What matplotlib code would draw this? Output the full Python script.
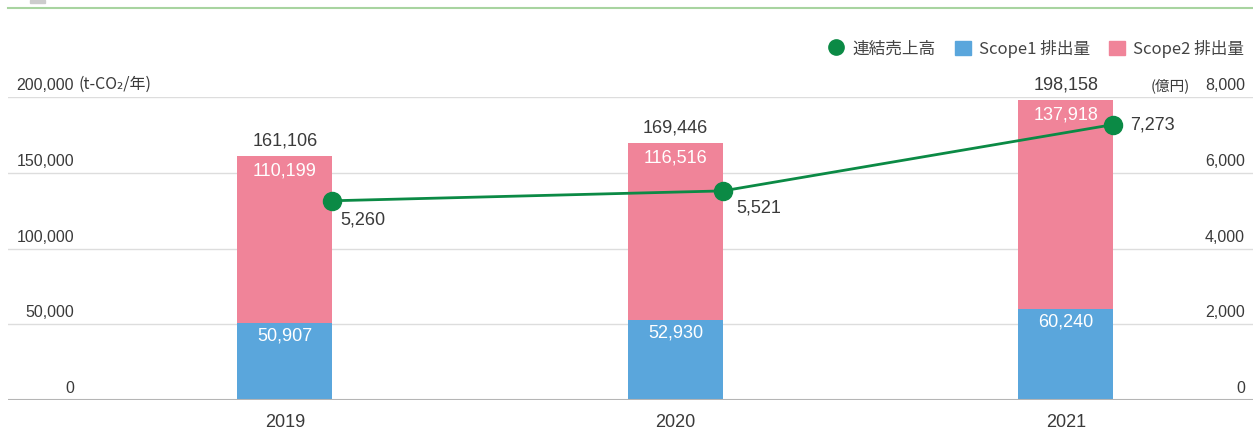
import matplotlib
matplotlib.use("Agg")
import matplotlib.pyplot as plt
from matplotlib.lines import Line2D
from matplotlib.patches import Patch, Rectangle
from matplotlib.transforms import offset_copy, blended_transform_factory

years = ["2019", "2020", "2021"]
scope1 = [50907, 52930, 60240]
scope2 = [110199, 116516, 137918]
totals = [161106, 169446, 198158]
sales = [5260, 5521, 7273]
left_ticks = [0, 50000, 100000, 150000, 200000]
left_labels = ["0", "50,000", "100,000", "150,000", "200,000"]
right_ticks = [0, 2000, 4000, 6000, 8000]
right_labels = ["0", "2,000", "4,000", "6,000", "8,000"]

BLUE = "#5aa6dc"
PINK = "#f08499"
GREEN = "#0b8a45"
TXT = "#3a3a3a"
NUM = ["Liberation Sans", "Noto Sans CJK JP", "DejaVu Sans"]
JP = ["Noto Sans CJK JP", "DejaVu Sans"]

W, H = 1253, 429
fig = plt.figure(figsize=(W / 100, H / 100), dpi=100)
ax = fig.add_axes([8 / W, (H - 400) / H, (W - 8) / W, 303 / H])
ax2 = ax.twinx()

x = list(range(len(years)))
bw = 0.243
ax.bar(x, scope1, width=bw, color=BLUE, zorder=3)
ax.bar(x, scope2, width=bw, bottom=scope1, color=PINK, zorder=3)
ax.set_xlim(-0.709, 2.479)
ax.set_ylim(0, 200000)
ax2.set_ylim(0, 8000)

lx = [i + bw / 2 for i in x]
ax2.plot(lx, sales, color=GREEN, lw=2, zorder=4)
ax2.plot(lx, sales, "o", color=GREEN, ms=13, zorder=5)

for a in (ax, ax2):
    for s in a.spines.values():
        s.set_visible(False)
    a.set_yticks([])
    a.tick_params(length=0)
ax.set_xticks(x)
ax.set_xticklabels(years, fontsize=13, color=TXT, family=NUM)
ax.tick_params(axis="x", pad=10)

# gridlines
for t in left_ticks[1:]:
    ax.axhline(t, color="#dddddd", lw=1, zorder=1)
ax.axhline(0, color="#b5b5b5", lw=1.5, zorder=6)

# left tick labels
tl = blended_transform_factory(ax.transAxes, ax.transData)
for t, lab in zip(left_ticks, left_labels):
    tr = offset_copy(tl, fig=fig, x=66, y=4, units="dots")
    ax.text(0, t, lab, transform=tr, ha="right", va="bottom", fontsize=11.5,
            color=TXT, family=NUM)
tr = offset_copy(tl, fig=fig, x=70, y=4, units="dots")
ax.text(0, left_ticks[-1], "(t-CO\u2082/年)", transform=tr, ha="left", va="bottom",
        fontsize=11.5, color=TXT, family=JP)

# right tick labels
tr2 = blended_transform_factory(ax2.transAxes, ax2.transData)
for t, lab in zip(right_ticks, right_labels):
    tr = offset_copy(tr2, fig=fig, x=-8, y=4, units="dots")
    ax2.text(1, t, lab, transform=tr, ha="right", va="bottom", fontsize=11.5,
             color=TXT, family=NUM)
tr = offset_copy(tr2, fig=fig, x=-63, y=4, units="dots")
ax2.text(1, right_ticks[-1], "(億円)", transform=tr, ha="right", va="bottom",
         fontsize=10.5, color=TXT, family=JP)

# bar labels
for i in x:
    ax.annotate(f"{totals[i]:,}", (i, scope1[i] + scope2[i]), xytext=(0, 15),
                textcoords="offset pixels", ha="center", va="center", fontsize=13,
                color=TXT, family=NUM, zorder=7)
    ax.annotate(f"{scope2[i]:,}", (i, scope1[i] + scope2[i]), xytext=(0, -15),
                textcoords="offset pixels", ha="center", va="center", fontsize=13,
                color="white", family=NUM, zorder=7)
    ax.annotate(f"{scope1[i]:,}", (i, scope1[i]), xytext=(0, -13),
                textcoords="offset pixels", ha="center", va="center", fontsize=13,
                color="white", family=NUM, zorder=7)

offs = [(8, -19, "left"), (13, -17, "left"), (17, 0, "left")]
for i in x:
    dx, dy, ha = offs[i]
    ax2.annotate(f"{sales[i]:,}", (lx[i], sales[i]), xytext=(dx, dy),
                 textcoords="offset pixels", ha=ha, va="center", fontsize=13,
                 color=TXT, family=NUM, zorder=7)

# legend
handles = [
    Line2D([], [], marker="o", color=GREEN, lw=0, ms=11),
    Patch(color=BLUE),
    Patch(color=PINK),
]
labels = ["連結売上高", "Scope1 排出量", "Scope2 排出量"]
leg = fig.legend(handles, labels, loc="upper right", bbox_to_anchor=(1251 / W, 1 - 33 / H),
                 ncol=3, frameon=False, handlelength=0.95, handleheight=0.95,
                 handletextpad=0.5, columnspacing=1.15, borderaxespad=0,
                 prop={"family": JP, "size": 12})
for t in leg.get_texts():
    t.set_color("#444444")

# top decoration
fig.add_artist(Line2D([8 / W, 1], [1 - 8 / H, 1 - 8 / H], color="#a8d4a0", lw=1.5,
                      transform=fig.transFigure))
fig.add_artist(Rectangle((30 / W, 1 - 3 / H), 15 / W, 3 / H, color="#cccccc",
                         transform=fig.transFigure))

fig.savefig("out.png", dpi=100, facecolor="white")
